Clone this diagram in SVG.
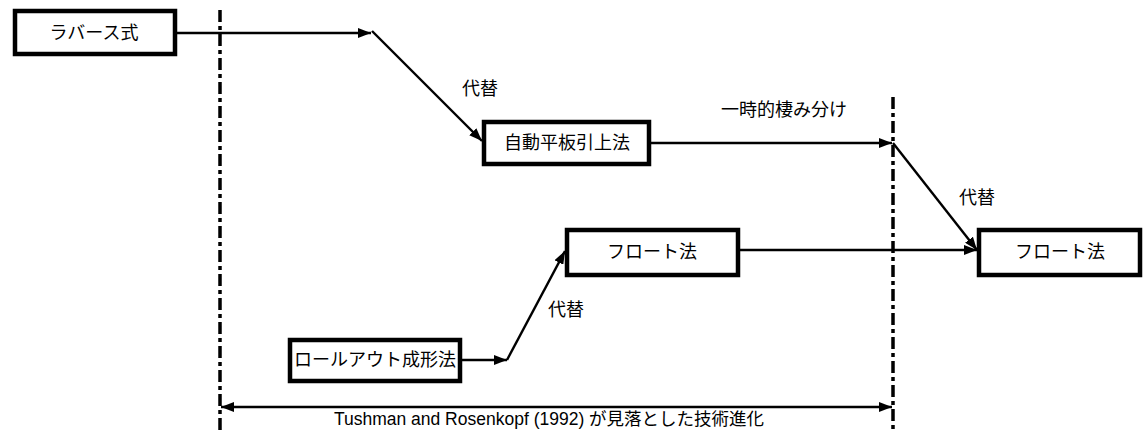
<svg xmlns="http://www.w3.org/2000/svg" width="1144" height="430" viewBox="0 0 1144 430">
<style>
.box{fill:#fff;stroke:#000;stroke-width:4.5}
.t{font-family:"Liberation Sans","Noto Sans CJK JP",sans-serif;font-size:18px;fill:#000;text-anchor:middle;dominant-baseline:central}
.c{fill:none;stroke:#000;stroke-width:2.4}
.v{fill:none;stroke:#000;stroke-width:3.5;stroke-dasharray:12 4 4 4}
</style>
<defs>
<marker id="ah" viewBox="0 0 13 10" refX="13" refY="5" markerWidth="13" markerHeight="10" markerUnits="userSpaceOnUse" orient="auto-start-reverse">
<path d="M0,0 L13,5 L0,10 Z" fill="#000"/>
</marker>
</defs>
<g id="guides">
<line class="v" x1="220" y1="10" x2="220" y2="430"/>
<line class="v" x1="893" y1="97" x2="893" y2="430"/>
</g>
<g id="connectors">
<line class="c" x1="177" y1="33" x2="371" y2="33" marker-end="url(#ah)"/>
<line class="c" x1="372" y1="31" x2="482" y2="141" marker-end="url(#ah)"/>
<line class="c" x1="651" y1="143" x2="892" y2="143" marker-end="url(#ah)"/>
<line class="c" x1="893" y1="143" x2="977" y2="250" marker-end="url(#ah)"/>
<line class="c" x1="740" y1="250" x2="977" y2="250" marker-end="url(#ah)"/>
<line class="c" x1="462" y1="360" x2="507" y2="360" marker-end="url(#ah)"/>
<line class="c" x1="507" y1="360" x2="565" y2="251" marker-end="url(#ah)"/>
<line class="c" x1="221" y1="407" x2="892" y2="407" marker-start="url(#ah)" marker-end="url(#ah)"/>
</g>
<g id="labels">
<text class="t" x="480" y="89">代替</text>
<text class="t" x="784" y="110">一時的棲み分け</text>
<text class="t" x="977" y="198">代替</text>
<text class="t" x="566" y="310">代替</text>
<text class="t" x="549" y="419" style="font-size:17.5px">Tushman and Rosenkopf (1992) が見落とした技術進化</text>
</g>
<g id="n1"><rect class="box" x="15" y="11" width="160" height="43"/><text class="t" x="94" y="33">ラバース式</text></g>
<g id="n2"><rect class="box" x="484" y="122" width="165" height="42"/><text class="t" x="567" y="143">自動平板引上法</text></g>
<g id="n3"><rect class="box" x="567" y="230" width="171" height="45"/><text class="t" x="652" y="252">フロート法</text></g>
<g id="n4"><rect class="box" x="979" y="230" width="161" height="45"/><text class="t" x="1060" y="252">フロート法</text></g>
<g id="n5"><rect class="box" x="290" y="340" width="170" height="41"/><text class="t" x="375" y="360">ロールアウト成形法</text></g>
</svg>
